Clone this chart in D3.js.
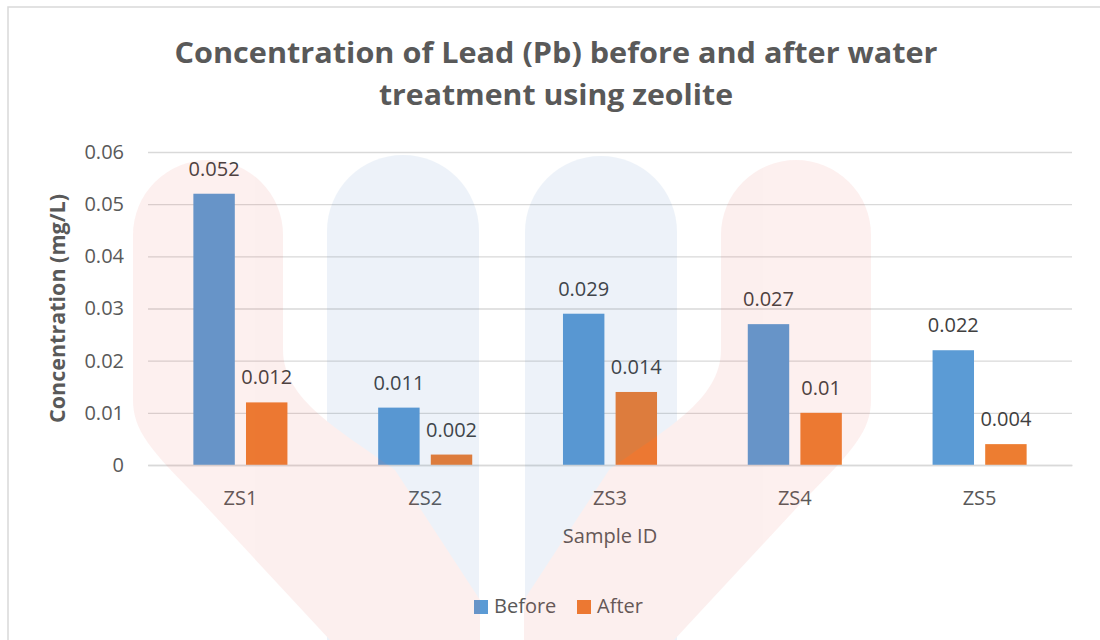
<!DOCTYPE html>
<html>
<head>
<meta charset="utf-8">
<script src="https://cdn.jsdelivr.net/npm/d3@7"></script>
<style>
  html, body { margin: 0; padding: 0; background: #ffffff; }
  svg { display: block; }
  text { font-family: "Open Sans", "Noto Sans", sans-serif; }
</style>
</head>
<body>
<div id="chart"></div>
<script>
// Lead (Pb) concentration per zeolite sample, mg/L
const categories = ["ZS1", "ZS2", "ZS3", "ZS4", "ZS5"];
const seriesNames = ["Before", "After"];
const beforeValues = [0.052, 0.011, 0.029, 0.027, 0.022];
const afterValues = [0.012, 0.002, 0.014, 0.010, 0.004];
const yTicks = [0, 0.01, 0.02, 0.03, 0.04, 0.05, 0.06];
const titleLines = ["Concentration of Lead (Pb) before and after water", "treatment using zeolite"];

const W = 1100, H = 640;
const colors = { Before: "#5B9BD5", After: "#ED7D31" };
const textGray = "#595959";
const labelGray = "#404040";
const gridGray = "#D9D9D9";

const svg = d3.select("#chart").append("svg")
  .attr("width", W).attr("height", H);

// chart area frame
svg.append("rect")
  .attr("x", 8).attr("y", 7).attr("width", W + 20).attr("height", H + 20)
  .attr("fill", "#ffffff").attr("stroke", gridGray).attr("stroke-width", 1.5);

const plot = { left: 148, right: 1072, top: 152, bottom: 465 };

const x0 = d3.scaleBand().domain(categories).range([plot.left, plot.right]).padding(0);
// two bars per category: 219% gap width, -27% overlap
const x1 = d3.scaleBand().domain(seriesNames)
  .range([0, x0.bandwidth()])
  .paddingInner(0.27 / 1.27)
  .paddingOuter(1.095 / 1.27);
const y = d3.scaleLinear().domain([0, 0.06]).range([plot.bottom, plot.top]);

// gridlines
const yAxis = d3.axisLeft(y).tickValues(yTicks)
  .tickSize(-(plot.right - plot.left)).tickPadding(24)
  .tickFormat(d => d === 0 ? "0" : d3.format(".2f")(d));
const gy = svg.append("g").attr("transform", `translate(${plot.left},0)`).call(yAxis);
gy.select(".domain").remove();
gy.selectAll(".tick line").attr("stroke", gridGray).attr("stroke-width", 1.4);
gy.selectAll(".tick text")
  .attr("fill", textGray).attr("font-size", 20)
  .attr("font-family", "'Open Sans', sans-serif");

// bars
const rows = categories.map((c, i) => ({ cat: c, Before: beforeValues[i], After: afterValues[i] }));
const groups = svg.append("g").selectAll("g").data(rows).join("g")
  .attr("transform", d => `translate(${x0(d.cat)},0)`);

groups.selectAll("rect").data(d => seriesNames.map(s => ({ s, v: d[s] }))).join("rect")
  .attr("x", d => x1(d.s))
  .attr("y", d => y(d.v))
  .attr("width", x1.bandwidth())
  .attr("height", d => y(0) - y(d.v))
  .attr("fill", d => colors[d.s]);

// value labels
groups.selectAll("text.val").data(d => seriesNames.map(s => ({ s, v: d[s] }))).join("text")
  .attr("class", "val")
  .attr("x", d => x1(d.s) + x1.bandwidth() / 2)
  .attr("y", d => y(d.v) - 18)
  .attr("text-anchor", "middle")
  .attr("font-size", 20)
  .attr("fill", labelGray)
  .text(d => String(d.v));

// category axis
const xAxis = d3.axisBottom(x0).tickSize(0).tickPadding(26);
const gx = svg.append("g").attr("transform", `translate(0,${plot.bottom})`).call(xAxis);
gx.select(".domain").attr("stroke", gridGray).attr("stroke-width", 1.4);
gx.selectAll(".tick text")
  .attr("fill", textGray).attr("font-size", 20)
  .attr("font-family", "'Open Sans', sans-serif");

// axis titles
svg.append("text")
  .attr("x", (plot.left + plot.right) / 2).attr("y", 543)
  .attr("text-anchor", "middle").attr("font-size", 20).attr("fill", textGray)
  .text("Sample ID");

svg.append("text")
  .attr("transform", `translate(65,${(plot.top + plot.bottom) / 2}) rotate(-90)`)
  .attr("text-anchor", "middle").attr("font-size", 21.5).attr("font-weight", "bold")
  .attr("fill", textGray)
  .text("Concentration (mg/L)");

// title
const titleWidths = [763, 354];
const titleBaselines = [63, 105];
svg.append("g").selectAll("text").data(titleLines).join("text")
  .attr("x", 556)
  .attr("y", (d, i) => titleBaselines[i])
  .attr("text-anchor", "middle")
  .attr("font-size", 29).attr("font-weight", "bold")
  .attr("fill", textGray)
  .attr("textLength", (d, i) => titleWidths[i])
  .attr("lengthAdjust", "spacingAndGlyphs")
  .text(d => d);

// legend
const legendX = [474, 577];
const legend = svg.append("g").selectAll("g").data(seriesNames).join("g")
  .attr("transform", (d, i) => `translate(${legendX[i]},600)`);
legend.append("rect").attr("width", 14).attr("height", 14).attr("fill", d => colors[d]);
legend.append("text").attr("x", 20).attr("y", 13)
  .attr("font-size", 20).attr("fill", textGray).text(d => d);

// faint logo watermark laid over the chart (one translucent layer, no build-up where shapes cross)
const wm = svg.append("g").attr("pointer-events", "none").attr("opacity", 0.085);
const blueTint = "rgb(60,120,190)";
const redTint = "rgb(230,80,70)";
wm.append("path")
  .attr("d", "M327,231 A76,76 0 0 1 479,231 L479,640 L327,640 Z")
  .attr("fill", blueTint);
wm.append("path")
  .attr("d", "M525,232 A76,76 0 0 1 677,232 L677,640 L525,640 Z")
  .attr("fill", blueTint);
wm.append("path")
  .attr("d", "M133,235 A75,75 0 0 1 283,235 L283,350 C283,400 340,430 395,470 L480,600 L480,640 L330,640 L200,500 C150,450 133,430 133,400 Z")
  .attr("fill", redTint);
wm.append("path")
  .attr("d", "M871,235 A75,75 0 0 0 721,235 L721,350 C721,400 664,430 609,470 L524,600 L524,640 L674,640 L804,500 C854,450 871,430 871,400 Z")
  .attr("fill", redTint);
</script>
</body>
</html>
